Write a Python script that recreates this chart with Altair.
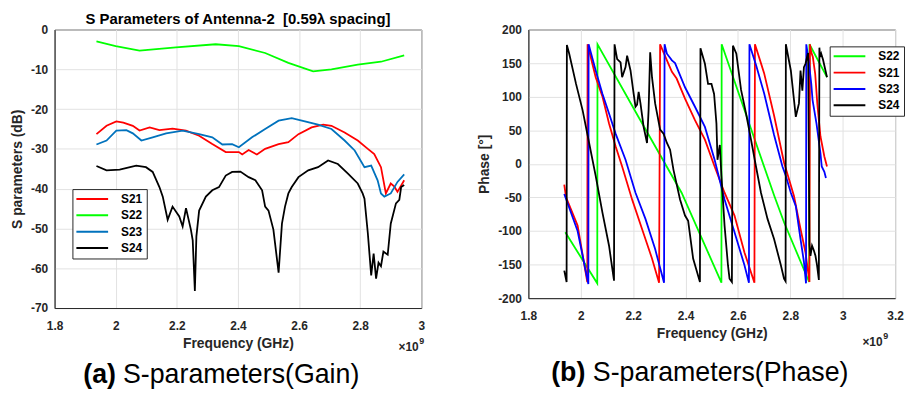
import altair as alt
import pandas as pd

FONT = "Liberation Sans"
INK = "#262626"

# ---------------- Panel (a): gain in dB ----------------
GAIN_SERIES = ["S21", "S22", "S23", "S24"]
GAIN_COLORS = ["#ff0000", "#00ff00", "#0072bd", "#000000"]

S21_GAIN_F = [1.937, 1.97, 2.002, 2.025, 2.056, 2.078, 2.111, 2.143, 2.186, 2.23, 2.273,
              2.316, 2.36, 2.403, 2.414, 2.435, 2.462, 2.489, 2.533, 2.565, 2.598, 2.641,
              2.679, 2.706, 2.749, 2.792, 2.825, 2.846, 2.868, 2.884, 2.9, 2.912, 2.922, 2.944]
S21_GAIN_DB = [-26.3, -24.2, -23.1, -23.4, -24.2, -25.4, -24.6, -25.3, -24.9, -25.4, -26.7,
               -28.8, -30.8, -30.8, -31.4, -30.3, -31.4, -30.0, -28.8, -28.3, -26.3, -24.6,
               -23.9, -24.2, -25.9, -27.9, -30.0, -31.3, -34.6, -41.2, -38.7, -39.5, -40.8, -37.9]

S22_GAIN_F = [1.937, 2.0, 2.078, 2.197, 2.327, 2.403, 2.489, 2.565, 2.646, 2.706, 2.792, 2.868, 2.944]
S22_GAIN_DB = [-3.0, -4.2, -5.3, -4.5, -3.7, -4.2, -5.9, -8.4, -10.5, -10.0, -8.8, -8.1, -6.5]

S23_GAIN_F = [1.937, 1.97, 2.002, 2.035, 2.056, 2.084, 2.121, 2.165, 2.219, 2.273, 2.316,
              2.349, 2.381, 2.403, 2.446, 2.489, 2.533, 2.576, 2.619, 2.662, 2.706, 2.749,
              2.782, 2.814, 2.836, 2.857, 2.868, 2.879, 2.9, 2.922, 2.944]
S23_GAIN_DB = [-28.9, -27.9, -25.4, -25.3, -26.1, -27.9, -27.1, -26.1, -25.4, -26.3, -27.1,
               -28.9, -28.8, -29.6, -27.1, -25.0, -22.9, -22.3, -23.1, -23.9, -25.0, -27.9,
               -30.4, -34.6, -34.2, -37.9, -41.2, -42.0, -41.2, -38.3, -36.4]

S24_GAIN_F = [1.937, 1.97, 2.013, 2.067, 2.099, 2.121, 2.143, 2.154, 2.17, 2.186, 2.208,
              2.219, 2.23, 2.246, 2.252, 2.259, 2.264, 2.273, 2.295, 2.316, 2.338, 2.36,
              2.381, 2.408, 2.435, 2.457, 2.479, 2.489, 2.5, 2.516, 2.533, 2.544, 2.554,
              2.565, 2.576, 2.598, 2.63, 2.662, 2.695, 2.727, 2.76, 2.792, 2.808, 2.814,
              2.825, 2.836, 2.844, 2.852, 2.86, 2.868, 2.876, 2.89, 2.9, 2.917, 2.928, 2.934, 2.944]
S24_GAIN_DB = [-34.3, -35.4, -35.2, -34.2, -34.6, -35.8, -39.6, -42.0, -47.8, -44.5, -47.0,
               -49.5, -44.9, -50.3, -53.0, -65.7, -52.0, -45.5, -42.0, -40.4, -39.6, -36.7,
               -35.8, -35.7, -37.1, -37.9, -40.4, -44.5, -45.5, -50.3, -61.1, -48.8, -44.5,
               -41.2, -39.6, -37.1, -35.4, -34.6, -32.9, -33.8, -36.2, -38.7, -41.2, -42.5,
               -51.2, -61.8, -56.3, -62.6, -58.6, -59.5, -55.8, -56.6, -48.8, -43.7, -42.8, -39.6, -39.1]

# ---------------- Panel (b): phase in degrees ----------------
PHASE_SERIES = ["S22", "S21", "S23", "S24"]
PHASE_COLORS = ["#00ff00", "#ff0000", "#0000ff", "#000000"]

S22_PH_F = [1.941, 2.063, 2.064, 2.22, 2.385, 2.537, 2.538, 2.739, 2.776, 2.872, 2.873, 2.94]
S22_PH_DEG = [-102, -178, 178, 70, -43, -177, 178, -48, -87, -176, 178, 129]

S21_PH_F = [1.937, 1.944, 1.988, 2.025, 2.026, 2.057, 2.083, 2.108, 2.133, 2.158, 2.196,
            2.234, 2.272, 2.299, 2.303, 2.329, 2.348, 2.366, 2.398, 2.436, 2.474, 2.511,
            2.549, 2.587, 2.625, 2.663, 2.665, 2.70, 2.738, 2.776, 2.814, 2.838, 2.858,
            2.873, 2.875, 2.88, 2.886, 2.895, 2.903, 2.915, 2.925, 2.93, 2.94]
S21_PH_DEG = [-31, -50, -92, -176, 178, 129, 100, 60, 26, -4, -53,
              -97, -141, -177, 178, 154, 137, 127, 97, 65, 36, -4,
              -43, -77, -132, -177, 178, 135, 72, 2, -48, -95, -132,
              -176, 178, 166, 159, 134, 90, 41, 21, 11, -4]

S23_PH_F = [1.937, 1.988, 2.029, 2.03, 2.057, 2.083, 2.108, 2.133, 2.171, 2.209, 2.247,
            2.284, 2.318, 2.32, 2.329, 2.348, 2.36, 2.398, 2.436, 2.474, 2.511, 2.549,
            2.587, 2.625, 2.642, 2.644, 2.67, 2.70, 2.738, 2.77, 2.783, 2.802, 2.821,
            2.839, 2.852, 2.86, 2.861, 2.87, 2.88, 2.885, 2.90, 2.915, 2.92, 2.93, 2.936]
S23_PH_DEG = [-45, -100, -179, 178, 139, 104, 75, 45, 6, -43, -82,
              -127, -177, 178, 164, 154, 150, 114, 85, 55, 6, -53,
              -102, -151, -177, 178, 146, 105, 43, -4, -18, -43, -63,
              -112, -146, -178, 178, 154, 119, 95, 60, 16, -4, -12, -21]

S24_PH_F = [1.937, 1.946, 1.947, 1.956, 1.982, 2.007, 2.032, 2.057, 2.083, 2.108, 2.127,
            2.129, 2.139, 2.152, 2.158, 2.171, 2.177, 2.19, 2.202, 2.209, 2.215, 2.221,
            2.228, 2.24, 2.253, 2.259, 2.265, 2.272, 2.284, 2.303, 2.316, 2.329, 2.341,
            2.354, 2.379, 2.398, 2.41, 2.429, 2.455,
            2.457, 2.474, 2.486, 2.499, 2.509, 2.518, 2.522, 2.528, 2.531, 2.537, 2.549,
            2.562, 2.568, 2.577,
            2.581, 2.594, 2.612, 2.631, 2.65, 2.669, 2.688, 2.713, 2.738, 2.764, 2.776, 2.782,
            2.783, 2.802, 2.821, 2.833, 2.839, 2.846, 2.852, 2.858, 2.864, 2.868, 2.873,
            2.877, 2.883, 2.89, 2.896, 2.902, 2.909,
            2.911, 2.914, 2.918, 2.925, 2.94]
S24_PH_DEG = [-159, -176, 177, 164, 119, 80, 31, -18, -73, -122, -174,
              178, 156, 151, 129, 144, 161, 139, 104, 85, 88, 107,
              90, 55, 31, 80, 166, 129, 90, 51, 45, 31, 21,
              -9, -53, -77, -85, -141, -176,
              172, 149, 119, 119, 104, 60, 6, 21, 28, -18, -92,
              -151, -171, -176,
              176, 164, 110, 75, 36, -4, -43, -82, -112, -151, -171, -175,
              178, 139, 70, 90, 139, 109, 144, 149, 159, 165, -120,
              -137, -122, -129, -137, -151, -173,
              173, 159, 164, 155, 129]

# ---------------- Texts ----------------
GAIN_TITLE = "S Parameters of Antenna-2\u00a0 [0.59\u03bb spacing]"
GAIN_YTITLE = "S parameters (dB)"
PHASE_YTITLE = "Phase [\u00b0]"
X_TITLE = "Frequency (GHz)"
EXP_BASE = "\u00d710"
EXP_POWER = "9"
CAPTION_A = ["(a)", "S-parameters(Gain)"]
CAPTION_B = ["(b)", "S-parameters(Phase)"]

GAIN_Y_TICKS = [-70, -60, -50, -40, -30, -20, -10, 0]
GAIN_X_TICKS = [1.8, 2.0, 2.2, 2.4, 2.6, 2.8, 3.0]
PHASE_Y_TICKS = [-200, -150, -100, -50, 0, 50, 100, 150, 200]
PHASE_X_TICKS = [1.8, 2.0, 2.2, 2.4, 2.6, 2.8, 3.0, 3.2]


def frame(series):
    rows = []
    for name, fs, vs in series:
        for i, (f, v) in enumerate(zip(fs, vs)):
            rows.append({"series": name, "freq": f, "value": v, "i": i})
    return pd.DataFrame(rows)


gain_df = frame([("S21", S21_GAIN_F, S21_GAIN_DB), ("S22", S22_GAIN_F, S22_GAIN_DB),
                 ("S23", S23_GAIN_F, S23_GAIN_DB), ("S24", S24_GAIN_F, S24_GAIN_DB)])
phase_df = frame([("S22", S22_PH_F, S22_PH_DEG), ("S21", S21_PH_F, S21_PH_DEG),
                  ("S23", S23_PH_F, S23_PH_DEG), ("S24", S24_PH_F, S24_PH_DEG)])

LBL = "toString(datum.value)"


def legend(x, y):
    return alt.Legend(title=None, orient="none", legendX=x, legendY=y,
                      symbolType="M-3.2,0H3.2", symbolSize=100, symbolStrokeWidth=2,
                      labelFont=FONT, labelFontSize=12, labelFontWeight="bold",
                      labelColor="black", strokeColor=INK, fillColor="white",
                      padding=4, rowPadding=4.5, labelOffset=23, symbolOffset=10,
                      cornerRadius=0)


def text_layer(label, x, y, size, weight, align="left", baseline="alphabetic", color="black"):
    return alt.Chart(pd.DataFrame({"t": [label]})).mark_text(
        font=FONT, fontSize=size, fontWeight=weight, align=align, baseline=baseline,
        color=color
    ).encode(text="t:N", x=alt.value(x), y=alt.value(y))


def panel(df, series, colors, xdom, xticks, ydom, yticks, ytitle, w, h, leg, title=None):
    base = alt.Chart(df)
    lines = base.mark_line(strokeWidth=1.8, clip=True).encode(
        x=alt.X("freq:Q", scale=alt.Scale(domain=xdom, nice=False, zero=False),
                axis=alt.Axis(values=xticks, labelExpr=LBL, title=X_TITLE)),
        y=alt.Y("value:Q", scale=alt.Scale(domain=ydom, nice=False, zero=False),
                axis=alt.Axis(values=yticks, labelExpr=LBL, title=ytitle)),
        color=alt.Color("series:N", scale=alt.Scale(domain=series, range=colors),
                        legend=leg),
        order=alt.Order("i:Q"),
    )
    props = dict(width=w, height=h)
    if title is not None:
        props["title"] = title
    return lines, props


left_lines, left_props = panel(gain_df, GAIN_SERIES, GAIN_COLORS, [1.8, 3.0], GAIN_X_TICKS,
                               [-70, 0], GAIN_Y_TICKS, GAIN_YTITLE, 370, 281,
                               legend(18, 161),
                               alt.TitleParams(GAIN_TITLE, font=FONT, fontSize=15,
                                               fontWeight="bold", color="black",
                                               anchor="middle", offset=-3))
left = alt.layer(
    left_lines,
    text_layer(EXP_BASE, 347, 324, 12, "bold", color=INK),
    text_layer(EXP_POWER, 368, 317, 9, "bold", color=INK),
    text_layer(CAPTION_A[0], 29, 357, 27, "bold"),
    text_layer(CAPTION_A[1], 69, 357, 27, "normal"),
).properties(**left_props)

right_lines, right_props = panel(phase_df, PHASE_SERIES, PHASE_COLORS, [1.8, 3.2], PHASE_X_TICKS,
                                 [-200, 200], PHASE_Y_TICKS, PHASE_YTITLE, 370, 271,
                                 legend(304, 17))
right = alt.layer(
    right_lines,
    text_layer(EXP_BASE, 337, 319, 12, "bold", color=INK),
    text_layer(EXP_POWER, 358, 312, 9, "bold", color=INK),
    text_layer(CAPTION_B[0], 23, 355, 27, "bold"),
    text_layer(CAPTION_B[1], 65, 355, 27, "normal"),
).properties(**right_props)

chart = alt.hconcat(left, right, spacing=108, bounds="flush").resolve_scale(
    color="independent"
).configure(
    padding={"left": 2, "top": 1, "right": 0, "bottom": 0},
    background="white",
).configure_view(
    stroke=INK, strokeWidth=1
).configure_axis(
    labelFont=FONT, labelFontSize=12, labelFontWeight="bold", labelColor=INK,
    titleFont=FONT, titleFontSize=14, titleFontWeight="bold", titleColor=INK,
    grid=True, gridColor="#e2e2e2", gridWidth=1,
    domainColor=INK, domainWidth=1, ticks=False, tickSize=0,
    labelFlush=False, labelOverlap=False, labelBound=False,
).configure_axisX(
    labelPadding=13, titlePadding=5
).configure_axisY(
    labelPadding=7, titlePadding=6
)

chart.save("out.html", embed_options={"renderer": "svg", "actions": False})
